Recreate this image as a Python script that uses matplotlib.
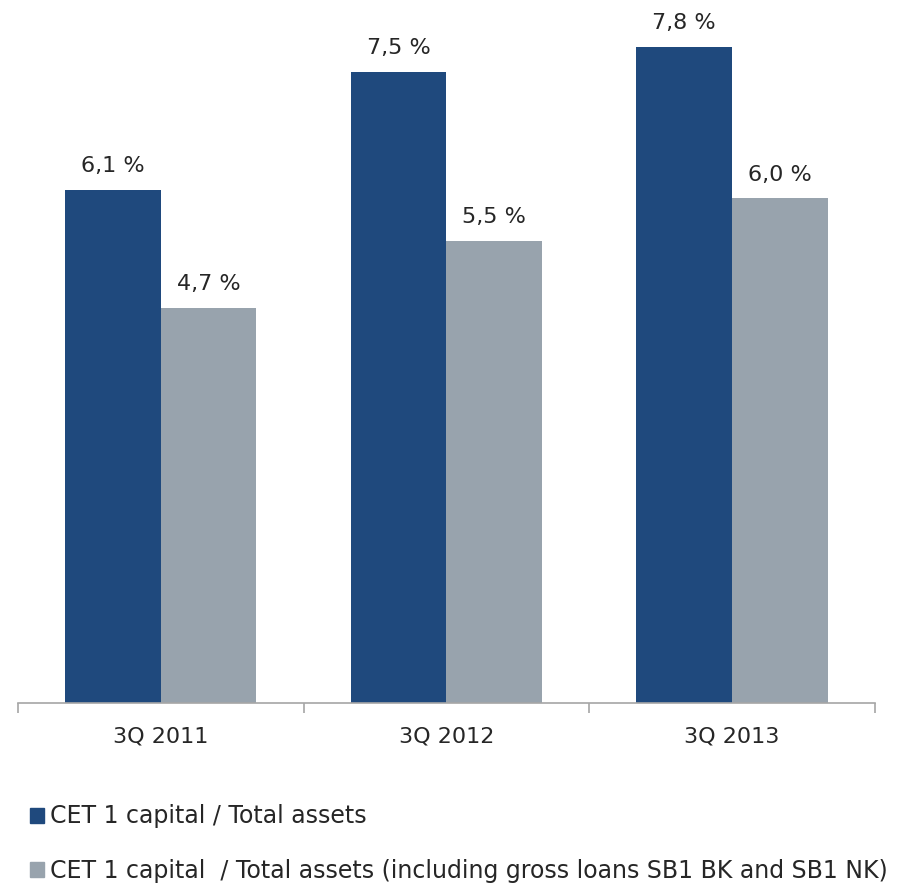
import matplotlib.pyplot as plt
import matplotlib.patches as mpatches
import numpy as np

# data
quarters = ['3Q 2011', '3Q 2012', '3Q 2013']
cet1_total = [6.1, 7.5, 7.8]
cet1_incl_loans = [4.7, 5.5, 6.0]
series_names = ['CET 1 capital / Total assets',
                'CET 1 capital  / Total assets (including gross loans SB1 BK and SB1 NK)']

dark_blue = '#1F497D'
grey = '#98A3AD'
text_col = '#262626'

plt.rcParams['font.family'] = ['DejaVu Sans']

fig = plt.figure(figsize=(9.07, 8.86), dpi=100)
ax = fig.add_axes([0.0198, 0.2065, 0.9449, 0.7935])

x = np.arange(len(quarters))
w = 0.335
b1 = ax.bar(x - w / 2, cet1_total, width=w, color=dark_blue)
b2 = ax.bar(x + w / 2, cet1_incl_loans, width=w, color=grey)

for bars, vals in [(b1, cet1_total), (b2, cet1_incl_loans)]:
    for bar, v in zip(bars, vals):
        ax.annotate(f'{v:.1f} %'.replace('.', ','),
                    (bar.get_x() + bar.get_width() / 2, v),
                    xytext=(0, 10), textcoords='offset points',
                    ha='center', va='bottom', fontsize=16, color=text_col)

ax.set_xlim(-0.5, 2.5)
ax.set_ylim(0, 8.36)
ax.set_xticks(x)
ax.set_xticklabels(quarters, fontsize=16, color=text_col)
ax.tick_params(axis='x', which='major', length=0, pad=17)
ax.set_xticks([-0.5, 0.5, 1.5, 2.5], minor=True)
ax.tick_params(axis='x', which='minor', length=7, width=1.2, color='#A6A6A6')
ax.set_yticks([])
for s in ['top', 'right', 'left']:
    ax.spines[s].set_visible(False)
ax.spines['bottom'].set_color('#A6A6A6')
ax.spines['bottom'].set_linewidth(1.2)

handles = [mpatches.Patch(color=dark_blue), mpatches.Patch(color=grey)]
fig.legend(handles, series_names, loc='upper left', bbox_to_anchor=(0.033, 0.092),
           frameon=False, fontsize=17, handlelength=0.6, handleheight=0.6,
           handletextpad=0.25, labelspacing=1.3, borderaxespad=0, borderpad=0,
           labelcolor=text_col)

fig.savefig('out.png', dpi=100)
